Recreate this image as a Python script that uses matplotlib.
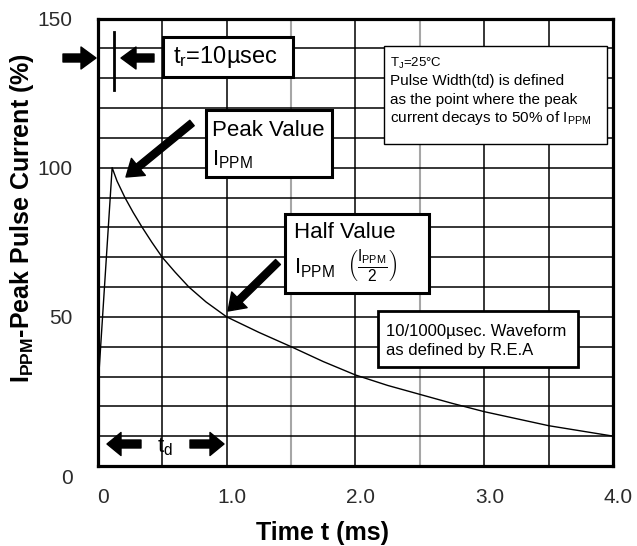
import numpy as np
import matplotlib
matplotlib.use('Agg')
import matplotlib.pyplot as plt
from matplotlib.patches import Rectangle, FancyArrowPatch
from matplotlib.transforms import ScaledTranslation

# ---------------- data ----------------
time_ms = [0.0, 0.005, 0.112, 0.15, 0.211, 0.275, 0.345, 0.42, 0.5, 0.6, 0.707, 0.84, 1.0,
           1.25, 1.5, 1.75, 2.0, 2.25, 2.5, 2.75, 3.0, 3.5, 4.0]
current_pct = [0, 28, 100, 95.5, 90, 85, 80, 75, 70, 65, 60, 55, 50,
               44.8, 40, 35, 30.5, 27, 24, 21, 18.2, 13.5, 10]
x_ticks = [0, 1, 2, 3, 4]
x_tick_labels = ['0', '1.0', '2.0', '3.0', '4.0']
y_ticks = [0, 50, 100, 150]
y_tick_labels = ['0', '50', '100', '150']
x_grid = [0.5, 1.0, 1.5, 2.0, 2.5, 3.0, 3.5]
x_grid_grey = [1.5, 2.5]
y_grid = list(range(10, 150, 10))

# ---------------- style ----------------
plt.rcParams['font.family'] = ['Liberation Sans', 'DejaVu Sans']
plt.rcParams['mathtext.fontset'] = 'custom'
plt.rcParams['mathtext.rm'] = 'Liberation Sans'
plt.rcParams['mathtext.it'] = 'Liberation Sans:italic'
plt.rcParams['mathtext.bf'] = 'Liberation Sans:bold'

W, H = 637, 546
fig = plt.figure(figsize=(W / 100, H / 100), dpi=100)
L, R, T, B = 97.7, 613.3, 18.5, 466
ax = fig.add_axes([L / W, 1 - B / H, (R - L) / W, (B - T) / H])


def fx(x):
    return x / W


def fy(y):
    return 1 - y / H


ax.set_xlim(0, 4)
ax.set_ylim(0, 150)
for g in x_grid:
    grey = g in x_grid_grey
    ax.axvline(g, color='#a6a6a6' if grey else 'black', lw=1.5 if grey else 1.1, zorder=1)
for g in y_grid:
    ax.axhline(g, color='black', lw=1.1, zorder=1)

ax.plot(time_ms, current_pct, color='black', lw=1.0, zorder=2)

for s in ax.spines.values():
    s.set_linewidth(2.3)
    s.set_color('black')

ax.set_xticks(x_ticks)
ax.set_xticklabels(x_tick_labels)
ax.set_yticks(y_ticks)
ax.set_yticklabels(y_tick_labels)
ax.tick_params(length=0, labelsize=15, colors='#2b2b2b')
ax.tick_params(axis='x', pad=16)
ax.tick_params(axis='y', pad=18)
off = ScaledTranslation(5 / 100, 0, fig.dpi_scale_trans)
for lab in ax.get_xticklabels():
    lab.set_transform(lab.get_transform() + off)
ylab0 = ax.get_yticklabels()[0]
ylab0.set_transform(ylab0.get_transform() + ScaledTranslation(0, -10 / 100, fig.dpi_scale_trans))

fig.text(fx(22), fy(218), r'$\mathbf{I_{PPM}}$-Peak Pulse Current (%)', rotation=90,
         ha='center', va='center', fontsize=18, fontweight='bold')
fig.text(fx(323), fy(533), 'Time t (ms)', ha='center', va='center', fontsize=18, fontweight='bold')


def box(x0, y0, x1, y1, lw):
    fig.add_artist(Rectangle((fx(x0), fy(y1)), fx(x1) - fx(x0), fy(y0) - fy(y1),
                             transform=fig.transFigure, facecolor='white',
                             edgecolor='black', linewidth=lw, zorder=3))


def txt(x, y, s, size, **kw):
    fig.text(fx(x), fy(y), s, ha='left', va='center', fontsize=size, zorder=4, **kw)


def arrow(x0, y0, x1, y1, hl=15, hw=22, tw=8):
    a = FancyArrowPatch((fx(x0), fy(y0)), (fx(x1), fy(y1)), transform=fig.transFigure,
                        arrowstyle=f'simple,head_length={hl},head_width={hw},tail_width={tw}',
                        mutation_scale=0.72, color='black', shrinkA=0, shrinkB=0, zorder=5)
    fig.add_artist(a)


# t_r box and arrows
box(162.7, 36.7, 293.3, 77.3, 2.2)
txt(173, 57, r't$_{\mathrm{r}}$=10µsec', 17)
arrow(63, 58, 96, 58)
arrow(154, 58, 121, 58)
fig.add_artist(plt.Line2D([fx(114), fx(114)], [fy(32), fy(90)], transform=fig.transFigure,
                          color='black', lw=2, zorder=5))

# Peak value
box(205.7, 110, 331.7, 176.7, 2.2)
txt(212, 131, 'Peak Value', 16)
txt(212, 160, r'I$_{\mathrm{PPM}}$', 16)
arrow(192, 123, 126, 177, hl=16, hw=22, tw=7)

# Half value
box(285.3, 214, 428.7, 292.7, 2.2)
txt(294, 232, 'Half Value', 16)
txt(294, 266, r'I$_{\mathrm{PPM}}$  $\left(\frac{\mathrm{I_{PPM}}}{2}\right)$', 16)
arrow(278, 262, 228, 311, hl=16, hw=22, tw=7)

# Tj box
box(384.3, 45.7, 607.3, 144, 1.0)
txt(390, 63, r'T$_{\mathrm{J}}$=25°C', 9.5)
txt(390, 81, 'Pulse Width(td) is defined', 11)
txt(390, 100, 'as the point where the peak', 11)
txt(390, 118, r'current decays to 50% of I$_{\mathrm{PPM}}$', 11)

# Waveform box
box(378.3, 310.7, 578.3, 366.7, 2.0)
txt(385.5, 331.5, '10/1000µsec. Waveform', 12)
txt(385.5, 351, 'as defined by R.E.A', 12)

# td arrows
arrow(141, 444, 107, 444, hl=14, hw=23, tw=8)
arrow(190, 444, 224, 444, hl=14, hw=23, tw=8)
txt(157, 447, r't$_{\mathrm{d}}$', 16)

fig.savefig('out.png', dpi=100)
